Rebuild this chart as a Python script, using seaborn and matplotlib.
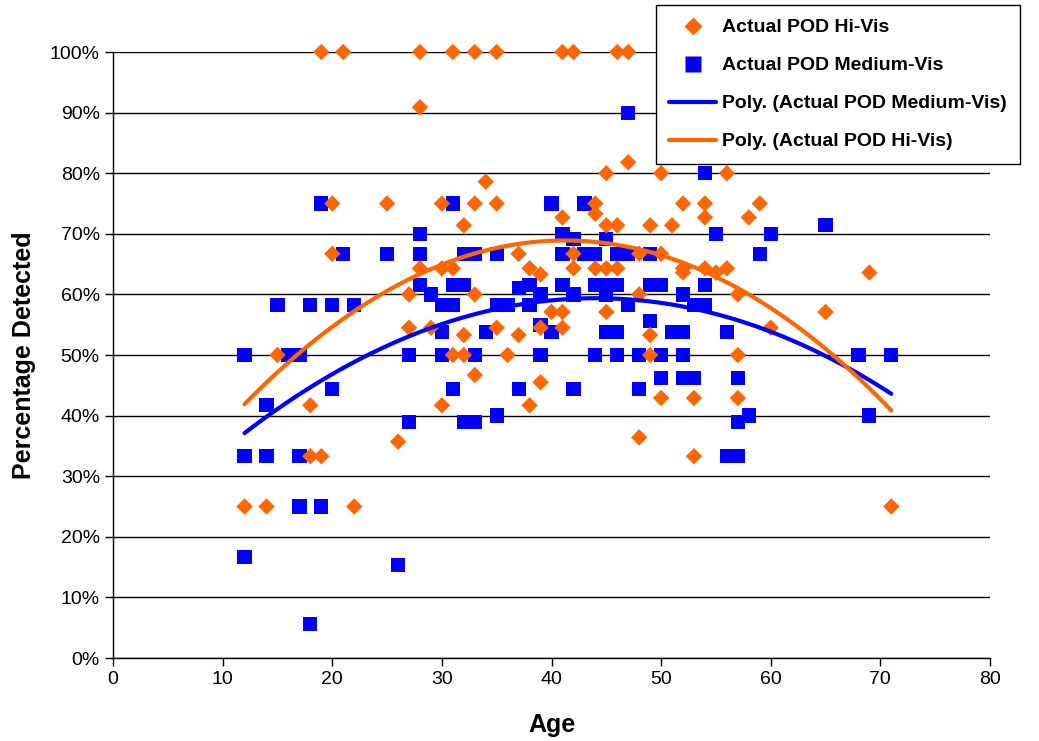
import matplotlib
matplotlib.use("Agg")
import matplotlib.pyplot as plt
import seaborn as sns
import pandas as pd
from matplotlib.lines import Line2D
from matplotlib.ticker import PercentFormatter

# Actual POD Hi-Vis (orange diamonds): age, percent detected
hi_age = [12, 14, 15, 18, 18, 19, 19, 20, 20, 21, 22, 25, 26, 27, 27, 28, 28, 28, 29,
          30, 30, 30, 31, 31, 31, 32, 32, 32, 33, 33, 33, 33, 34, 35, 35, 35, 36, 37, 37,
          38, 38, 39, 39, 39, 40, 41, 41, 41, 41, 42, 42, 42, 44, 44, 44, 45, 45, 45, 45,
          46, 46, 46, 47, 47, 48, 48, 48, 49, 49, 49, 50, 50, 50, 51, 52, 52, 52, 53, 53,
          54, 54, 54, 55, 56, 56, 57, 57, 57, 58, 59, 60, 65, 69, 71]
hi_pod = [25, 25, 50, 41.7, 33.3, 33.3, 100, 75, 66.7, 100, 25, 75, 35.7, 60, 54.5, 100, 90.9, 64.3, 54.5,
          75, 64.3, 41.7, 100, 64.3, 50, 71.4, 53.3, 50, 100, 75, 60, 46.7, 78.6, 100, 75, 54.5, 50, 66.7, 53.3,
          64.3, 41.7, 63.3, 54.5, 45.5, 57.1, 100, 72.7, 57.1, 54.5, 100, 66.7, 64.3, 75, 73.3, 64.3, 80, 71.4, 64.3, 57.1,
          100, 71.4, 64.3, 100, 81.8, 66.7, 60, 36.4, 71.4, 53.3, 50, 80, 66.7, 42.9, 71.4, 75, 64.3, 63.6, 42.9, 33.3,
          75, 72.7, 64.3, 63.6, 80, 64.3, 60, 50, 42.9, 72.7, 75, 54.5, 57.1, 63.6, 25]

# Actual POD Medium-Vis (blue squares)
med_age = [12, 12, 12, 14, 14, 15, 16, 17, 17, 17, 18, 18, 19, 19, 20, 20, 21, 22, 25, 26,
           27, 27, 28, 28, 28, 29, 30, 30, 30, 31, 31, 31, 31, 32, 32, 32, 33, 33, 33, 34,
           35, 35, 35, 36, 37, 37, 38, 38, 39, 39, 39, 40, 40, 41, 41, 41, 42, 42, 42, 43,
           43, 44, 44, 44, 45, 45, 45, 45, 46, 46, 46, 46, 47, 47, 47, 48, 48, 49, 49, 49,
           50, 50, 50, 51, 52, 52, 52, 52, 53, 53, 54, 54, 54, 55, 56, 56, 57, 57, 57, 58,
           59, 60, 65, 68, 69, 71]
med_pod = [50, 33.3, 16.7, 41.7, 33.3, 58.3, 50, 50, 33.3, 25, 58.3, 5.6, 75, 25, 58.3, 44.4, 66.7, 58.3, 66.7, 15.4,
           50, 38.9, 70, 66.7, 61.5, 60, 58.3, 53.8, 50, 75, 61.5, 58.3, 44.4, 66.7, 61.5, 38.9, 66.7, 50, 38.9, 53.8,
           66.7, 58.3, 40, 58.3, 61.1, 44.4, 61.5, 58.3, 60, 55, 50, 75, 53.8, 70, 66.7, 61.5, 69.2, 60, 44.4, 75,
           66.7, 66.7, 61.5, 50, 69.2, 61.5, 60, 53.8, 66.7, 61.5, 53.8, 50, 90, 66.7, 58.3, 50, 44.4, 66.7, 61.5, 55.6,
           61.5, 50, 46.2, 53.8, 60, 53.8, 50, 46.2, 58.3, 46.2, 80, 61.5, 58.3, 70, 53.8, 33.3, 46.2, 38.9, 33.3, 40,
           66.7, 70, 71.4, 50, 40, 50]

ORANGE = "#FF6600"
BLUE = "#0000FF"

hi = pd.DataFrame({"Age": hi_age, "POD": [v / 100 for v in hi_pod]})
med = pd.DataFrame({"Age": med_age, "POD": [v / 100 for v in med_pod]})

sns.set_style("white")
plt.rcParams["font.family"] = ["Liberation Sans", "DejaVu Sans"]
plt.rcParams["text.color"] = "black"
plt.rcParams["axes.labelcolor"] = "black"
plt.rcParams["xtick.color"] = "black"
plt.rcParams["ytick.color"] = "black"

fig = plt.figure(figsize=(10.39, 7.41), dpi=100)
ax = fig.add_axes([0.1088, 0.112, 0.844, 0.8178])

sns.scatterplot(data=med, x="Age", y="POD", ax=ax, marker="s", s=105, color=BLUE,
                edgecolor="none", clip_on=False, zorder=3)
sns.scatterplot(data=hi, x="Age", y="POD", ax=ax, marker="D", s=70, color=ORANGE,
                edgecolor="none", clip_on=False, zorder=4)

# 2nd order polynomial trendlines
sns.regplot(data=med, x="Age", y="POD", ax=ax, order=2, scatter=False, ci=None,
            truncate=True, line_kws={"color": BLUE, "linewidth": 3, "zorder": 5})
sns.regplot(data=hi, x="Age", y="POD", ax=ax, order=2, scatter=False, ci=None,
            truncate=True, line_kws={"color": ORANGE, "linewidth": 3, "zorder": 5})

ax.set_xlim(0, 80)
ax.set_ylim(0, 1.0)
ax.set_xticks(range(0, 81, 10))
ax.set_yticks([i / 10 for i in range(11)])
ax.yaxis.set_major_formatter(PercentFormatter(1.0, decimals=0))
ax.yaxis.grid(True, color="black", linewidth=1)
ax.xaxis.grid(False)
ax.set_axisbelow(True)
for s in ["top", "right"]:
    ax.spines[s].set_visible(False)
for s in ["left", "bottom"]:
    ax.spines[s].set_color("black")
    ax.spines[s].set_linewidth(1)
ax.tick_params(axis="both", direction="out", length=6, width=1, color="black",
               labelsize=14, labelcolor="black", left=True, bottom=True)

ax.set_xlabel("Age", fontsize=18, fontweight="bold", labelpad=18, color="black")
ax.set_ylabel("Percentage Detected", fontsize=18, fontweight="bold", labelpad=10, color="black")

handles = [
    Line2D([], [], linestyle="none", marker="D", markersize=9, color=ORANGE, markeredgecolor="none"),
    Line2D([], [], linestyle="none", marker="s", markersize=11, color=BLUE, markeredgecolor="none"),
    Line2D([], [], color=BLUE, linewidth=3),
    Line2D([], [], color=ORANGE, linewidth=3),
]
labels = ["Actual POD Hi-Vis", "Actual POD Medium-Vis",
          "Poly. (Actual POD Medium-Vis)", "Poly. (Actual POD Hi-Vis)"]
leg = fig.legend(handles, labels, loc="upper left", bbox_to_anchor=(0.631, 0.993),
                 prop={"size": 14, "weight": "bold"}, frameon=True, fancybox=False,
                 edgecolor="black", framealpha=1, borderaxespad=0, handlelength=2.4,
                 handletextpad=0.3, labelspacing=1.05, borderpad=0.7)
leg.get_frame().set_linewidth(1)
for t in leg.get_texts():
    t.set_color("black")

fig.savefig("out.png", dpi=100)
